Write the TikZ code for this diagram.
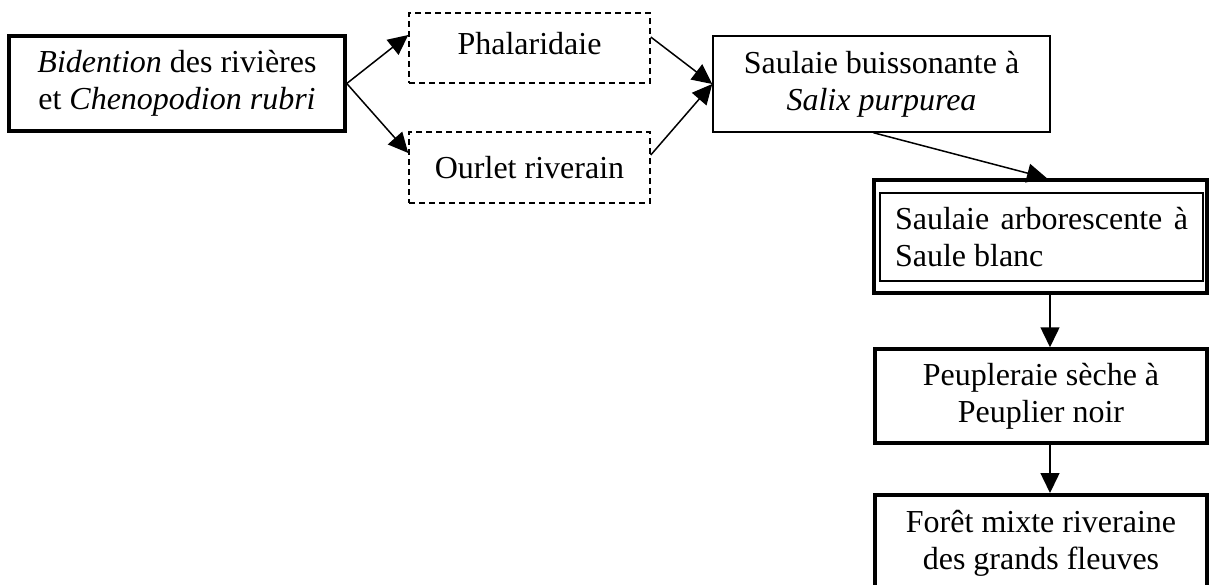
\documentclass[tikz,border=0pt]{standalone}
\usepackage{fontspec}
\setmainfont{Liberation Serif}
\usetikzlibrary{arrows.meta}
\begin{document}
\begin{tikzpicture}[x=1pt,y=-1pt,
  every node/.style={font=\fontsize{32}{37}\selectfont, align=center, inner sep=0pt},
  thickbox/.style={draw, line width=3.5pt},
  thinbox/.style={draw, line width=1.5pt},
  dashbox/.style={draw, line width=1.5pt, dash pattern=on 6pt off 4pt},
  arr/.style={line width=1.5pt, -{Triangle[length=20pt,width=19pt]}}]
\path[use as bounding box, clip] (0,0) rectangle (1210,584);
\node[thickbox, minimum width=336pt, minimum height=95pt] (bid) at (177,83.5)
  {\textit{Bidention} des rivières\\et \textit{Chenopodion rubri}};
\node[dashbox, minimum width=241pt, minimum height=70pt, text depth=10pt] (phal) at (529.5,48) {Phalaridaie};
\node[dashbox, minimum width=241pt, minimum height=71pt] (our) at (529.5,167.5) {Ourlet riverain};
\node[thinbox, minimum width=337pt, minimum height=96pt] (saub) at (881.5,84)
  {Saulaie buissonante à\\\textit{Salix purpurea}};
\node[thickbox, minimum width=333pt, minimum height=113pt] (arbo) at (1040.5,236.5) {};
\node[thinbox, minimum width=323pt, minimum height=88pt, align=left] (arboin) at (1041.5,237)
  {\makebox[293pt][s]{Saulaie arborescente à}\\Saule blanc};
\node[thickbox, minimum width=332pt, minimum height=94pt] (peup) at (1041,396)
  {Peupleraie sèche à\\Peuplier noir};
\node[thickbox, minimum width=332pt, minimum height=130pt, anchor=north, inner ysep=14pt, text depth=40pt] (foret) at (1041,493)
  {Forêt mixte riveraine\\des grands fleuves};
\draw[arr] (bid.east) -- ([yshift=13pt]phal.west);
\draw[arr] (bid.east) -- ([yshift=14.5pt]our.west);
\draw[arr] ([yshift=11pt]phal.east) -- (saub.west);
\draw[arr] ([yshift=12.5pt]our.east) -- (saub.west);
\draw[arr] ([xshift=-8pt]saub.south) -- ([xshift=6.5pt]arbo.north);
\draw[arr] ([xshift=9.5pt]arbo.south) -- ([xshift=9pt]peup.north);
\draw[arr] ([xshift=9pt]peup.south) -- ([xshift=9pt]foret.north);
\end{tikzpicture}
\end{document}
